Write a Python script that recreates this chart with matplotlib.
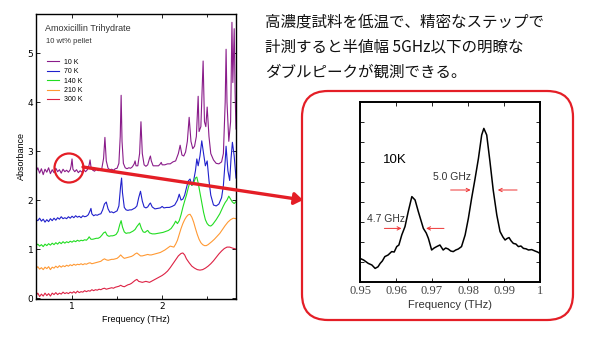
import matplotlib
matplotlib.use('Agg')
import matplotlib.pyplot as plt
from matplotlib.patches import Ellipse, FancyBboxPatch, FancyArrowPatch
from matplotlib.transforms import IdentityTransform
from matplotlib.ticker import MultipleLocator, FixedLocator

# ---- main spectrum data (THz, absorbance, offset curves) ----
f10 = [0.60, 0.62, 0.64, 0.66, 0.68, 0.70, 0.72, 0.74, 0.76, 0.78, 0.80, 0.82, 0.84, 0.86, 0.88, 0.90,
       0.92, 0.94, 0.96, 0.98, 0.99, 1.00, 1.01, 1.03, 1.05, 1.07, 1.09, 1.11, 1.13, 1.15, 1.17, 1.19,
       1.20, 1.21, 1.23, 1.25, 1.27, 1.29, 1.31, 1.33, 1.35, 1.365, 1.38, 1.40, 1.42, 1.44, 1.46, 1.48,
       1.50, 1.52, 1.535, 1.545, 1.555, 1.57, 1.59, 1.61, 1.63, 1.65, 1.67, 1.69, 1.70, 1.71, 1.73, 1.75,
       1.765, 1.78, 1.80, 1.82, 1.84, 1.86, 1.87, 1.88, 1.90, 1.93, 1.96, 1.98, 1.99, 2.00, 2.03, 2.06,
       2.09, 2.12, 2.15, 2.18, 2.20, 2.22, 2.24, 2.26, 2.28, 2.30, 2.32, 2.34, 2.36, 2.38, 2.40, 2.41,
       2.43, 2.455, 2.47, 2.485, 2.50, 2.52, 2.54, 2.57, 2.60, 2.63, 2.66, 2.68, 2.70, 2.71, 2.72, 2.74,
       2.76, 2.775, 2.785, 2.80, 2.81, 2.82]
a10 = [2.58, 2.66, 2.55, 2.64, 2.52, 2.63, 2.57, 2.66, 2.54, 2.62, 2.56, 2.65, 2.58, 2.62, 2.55, 2.63,
       2.58, 2.61, 2.57, 2.62, 2.70, 2.84, 2.63, 2.58, 2.62, 2.56, 2.60, 2.57, 2.62, 2.58, 2.62, 2.72,
       2.82, 2.68, 2.61, 2.59, 2.63, 2.60, 2.62, 2.64, 2.85, 3.28, 2.80, 2.65, 2.62, 2.63, 2.61, 2.64,
       2.65, 2.75, 3.30, 4.14, 3.20, 2.75, 2.66, 2.64, 2.66, 2.65, 2.68, 2.74, 2.80, 2.70, 2.70, 2.95,
       3.60, 2.95, 2.72, 2.69, 2.72, 2.85, 2.90, 2.80, 2.70, 2.70, 2.70, 2.74, 2.77, 2.72, 2.72, 2.74,
       2.74, 2.78, 2.80, 2.95, 3.12, 2.92, 2.90, 2.98, 3.20, 3.69, 3.20, 3.05, 3.10, 3.30, 4.12, 3.40,
       3.50, 4.84, 3.60, 3.50, 3.90, 3.30, 2.95, 2.82, 2.75, 2.74, 2.78, 2.95, 4.00, 5.08, 4.00, 3.20,
       3.60, 5.63, 4.40, 5.50, 4.20, 3.45]

f70 = [0.60, 0.62, 0.64, 0.66, 0.68, 0.70, 0.72, 0.74, 0.76, 0.78, 0.80, 0.82, 0.84, 0.86, 0.88, 0.90,
       0.92, 0.94, 0.96, 0.98, 1.00, 1.02, 1.04, 1.06, 1.08, 1.10, 1.12, 1.14, 1.16, 1.18, 1.20, 1.21,
       1.22, 1.24, 1.26, 1.28, 1.30, 1.32, 1.34, 1.36, 1.38, 1.40, 1.42, 1.44, 1.46, 1.48, 1.50, 1.52,
       1.54, 1.55, 1.56, 1.58, 1.60, 1.62, 1.64, 1.66, 1.68, 1.70, 1.72, 1.74, 1.76, 1.78, 1.80, 1.82,
       1.84, 1.86, 1.87, 1.89, 1.92, 1.95, 1.98, 2.00, 2.02, 2.05, 2.08, 2.11, 2.14, 2.17, 2.19, 2.21,
       2.23, 2.25, 2.27, 2.29, 2.31, 2.33, 2.35, 2.37, 2.385, 2.40, 2.42, 2.44, 2.46, 2.48, 2.50, 2.52,
       2.54, 2.57, 2.60, 2.63, 2.66, 2.68, 2.70, 2.71, 2.73, 2.75, 2.765, 2.78, 2.80, 2.82]
a70 = [1.60, 1.58, 1.63, 1.57, 1.61, 1.55, 1.60, 1.56, 1.62, 1.58, 1.63, 1.59, 1.64, 1.61, 1.66, 1.62,
       1.64, 1.62, 1.66, 1.63, 1.67, 1.64, 1.68, 1.65, 1.67, 1.64, 1.68, 1.66, 1.67, 1.70, 1.78, 1.83,
       1.72, 1.68, 1.70, 1.69, 1.71, 1.72, 1.80, 1.92, 1.96, 1.82, 1.75, 1.76, 1.74, 1.76, 1.78, 1.88,
       2.30, 2.45, 2.15, 1.85, 1.80, 1.79, 1.80, 1.80, 1.82, 1.84, 1.88, 2.05, 2.18, 1.98, 1.86, 1.84,
       1.86, 1.92, 1.94, 1.86, 1.82, 1.83, 1.84, 1.87, 1.84, 1.85, 1.85, 1.87, 1.90, 2.00, 2.12, 2.00,
       2.02, 2.10, 2.25, 2.39, 2.43, 2.30, 2.40, 2.60, 2.84, 2.70, 2.90, 3.21, 2.95, 2.70, 2.80, 2.40,
       2.10, 1.90, 1.88, 1.92, 2.05, 2.30, 2.80, 3.10, 2.60, 2.40, 2.85, 3.18, 2.90, 2.45]

f140 = [0.60, 0.62, 0.64, 0.66, 0.68, 0.70, 0.72, 0.74, 0.76, 0.78, 0.80, 0.82, 0.84, 0.86, 0.88, 0.90,
        0.92, 0.94, 0.96, 0.98, 1.00, 1.02, 1.04, 1.06, 1.08, 1.10, 1.12, 1.14, 1.16, 1.18, 1.19, 1.21,
        1.23, 1.25, 1.27, 1.29, 1.31, 1.33, 1.35, 1.37, 1.39, 1.41, 1.43, 1.45, 1.47, 1.49, 1.51, 1.53,
        1.545, 1.56, 1.58, 1.60, 1.62, 1.64, 1.66, 1.68, 1.70, 1.72, 1.75, 1.77, 1.79, 1.81, 1.83, 1.84,
        1.86, 1.89, 1.92, 1.95, 1.98, 2.01, 2.04, 2.07, 2.10, 2.13, 2.15, 2.17, 2.19, 2.21, 2.23, 2.25,
        2.27, 2.29, 2.31, 2.33, 2.35, 2.37, 2.385, 2.40, 2.42, 2.44, 2.46, 2.48, 2.50, 2.52, 2.54, 2.56,
        2.58, 2.60, 2.62, 2.64, 2.66, 2.68, 2.70, 2.72, 2.74, 2.76, 2.78, 2.80, 2.82]
a140 = [1.07, 1.10, 1.06, 1.09, 1.05, 1.10, 1.07, 1.11, 1.08, 1.12, 1.09, 1.13, 1.10, 1.14, 1.11, 1.15,
        1.12, 1.15, 1.13, 1.16, 1.14, 1.17, 1.15, 1.18, 1.16, 1.18, 1.17, 1.19, 1.18, 1.22, 1.25, 1.20,
        1.20, 1.21, 1.22, 1.22, 1.24, 1.28, 1.33, 1.35, 1.28, 1.26, 1.27, 1.27, 1.28, 1.30, 1.36, 1.50,
        1.58, 1.45, 1.35, 1.32, 1.33, 1.33, 1.35, 1.37, 1.40, 1.46, 1.53, 1.42, 1.35, 1.34, 1.37, 1.38,
        1.33, 1.31, 1.31, 1.32, 1.33, 1.34, 1.36, 1.38, 1.42, 1.50, 1.57, 1.52, 1.58, 1.70, 1.85, 1.98,
        2.10, 2.25, 2.38, 2.30, 2.35, 2.45, 2.47, 2.35, 2.15, 1.95, 1.75, 1.60, 1.52, 1.48, 1.47, 1.50,
        1.55, 1.60, 1.66, 1.72, 1.80, 1.88, 1.95, 2.00, 2.08, 2.02, 1.96, 1.93, 1.97]

f210 = [0.60, 0.62, 0.64, 0.66, 0.68, 0.70, 0.72, 0.74, 0.76, 0.78, 0.80, 0.82, 0.84, 0.86, 0.88, 0.90,
        0.92, 0.94, 0.96, 0.98, 1.00, 1.02, 1.04, 1.06, 1.08, 1.10, 1.12, 1.14, 1.16, 1.18, 1.20, 1.22,
        1.24, 1.26, 1.28, 1.30, 1.32, 1.34, 1.36, 1.38, 1.40, 1.42, 1.44, 1.46, 1.48, 1.50, 1.52, 1.54,
        1.56, 1.58, 1.60, 1.62, 1.64, 1.66, 1.68, 1.70, 1.72, 1.74, 1.76, 1.78, 1.80, 1.82, 1.84, 1.86,
        1.88, 1.90, 1.92, 1.94, 1.96, 1.98, 2.00, 2.03, 2.06, 2.09, 2.11, 2.13, 2.15, 2.17, 2.19, 2.21,
        2.23, 2.25, 2.27, 2.29, 2.31, 2.33, 2.35, 2.37, 2.39, 2.41, 2.43, 2.45, 2.47, 2.49, 2.51, 2.53,
        2.55, 2.58, 2.61, 2.64, 2.67, 2.70, 2.73, 2.76, 2.79, 2.82]
a210 = [0.60, 0.64, 0.59, 0.62, 0.58, 0.63, 0.60, 0.64, 0.58, 0.63, 0.61, 0.65, 0.62, 0.66, 0.63, 0.66,
        0.64, 0.67, 0.65, 0.68, 0.66, 0.69, 0.67, 0.69, 0.68, 0.70, 0.68, 0.70, 0.69, 0.71, 0.72, 0.70,
        0.71, 0.72, 0.73, 0.74, 0.75, 0.78, 0.80, 0.78, 0.77, 0.78, 0.79, 0.79, 0.80, 0.81, 0.84, 0.88,
        0.84, 0.81, 0.82, 0.83, 0.84, 0.85, 0.87, 0.90, 0.92, 0.89, 0.86, 0.86, 0.87, 0.88, 0.89, 0.88,
        0.88, 0.89, 0.90, 0.91, 0.92, 0.93, 0.95, 0.98, 1.02, 1.06, 1.05, 1.04, 1.10, 1.18, 1.30, 1.42,
        1.52, 1.60, 1.66, 1.70, 1.71, 1.65, 1.55, 1.42, 1.30, 1.20, 1.13, 1.09, 1.07, 1.07, 1.09, 1.12,
        1.15, 1.20, 1.26, 1.32, 1.40, 1.48, 1.55, 1.60, 1.63, 1.62]

f300 = [0.60, 0.62, 0.64, 0.66, 0.68, 0.70, 0.72, 0.74, 0.76, 0.78, 0.80, 0.82, 0.84, 0.86, 0.88, 0.90,
        0.92, 0.94, 0.96, 0.98, 1.00, 1.02, 1.04, 1.06, 1.08, 1.10, 1.12, 1.14, 1.16, 1.18, 1.20, 1.22,
        1.24, 1.26, 1.28, 1.30, 1.32, 1.34, 1.36, 1.38, 1.40, 1.42, 1.44, 1.46, 1.48, 1.50, 1.52, 1.54,
        1.56, 1.58, 1.60, 1.62, 1.64, 1.66, 1.68, 1.70, 1.72, 1.74, 1.76, 1.78, 1.80, 1.82, 1.84, 1.86,
        1.88, 1.90, 1.92, 1.94, 1.96, 1.98, 2.00, 2.03, 2.06, 2.09, 2.12, 2.15, 2.18, 2.21, 2.23, 2.25,
        2.27, 2.30, 2.33, 2.36, 2.39, 2.42, 2.45, 2.48, 2.51, 2.54, 2.57, 2.60, 2.63, 2.66, 2.69, 2.72,
        2.75, 2.78, 2.82]
a300 = [0.05, 0.10, 0.03, 0.08, 0.04, 0.10, 0.05, 0.09, 0.04, 0.10, 0.07, 0.11, 0.07, 0.10, 0.08, 0.12,
        0.09, 0.11, 0.09, 0.12, 0.10, 0.13, 0.10, 0.14, 0.11, 0.13, 0.12, 0.15, 0.13, 0.15, 0.14, 0.17,
        0.15, 0.17, 0.16, 0.18, 0.17, 0.19, 0.20, 0.18, 0.19, 0.20, 0.21, 0.20, 0.22, 0.23, 0.24, 0.26,
        0.24, 0.23, 0.25, 0.27, 0.28, 0.30, 0.33, 0.36, 0.38, 0.34, 0.33, 0.32, 0.33, 0.34, 0.33, 0.32,
        0.34, 0.36, 0.38, 0.40, 0.42, 0.44, 0.46, 0.50, 0.55, 0.62, 0.70, 0.78, 0.86, 0.91, 0.92, 0.88,
        0.80, 0.72, 0.65, 0.61, 0.58, 0.57, 0.58, 0.61, 0.65, 0.70, 0.76, 0.83, 0.90, 0.96, 1.01, 1.04,
        1.04, 1.02, 1.00]

labels = ['10 K', '70 K', '140 K', '210 K', '300 K']
colors = ['#8a1c8a', '#2020cc', '#22dd22', '#ff9933', '#dd2244']

# ---- zoomed 10 K doublet ----
fz = [0.9500, 0.9510, 0.9523, 0.9533, 0.9542, 0.9550, 0.9556, 0.9562, 0.9569, 0.9578, 0.9588, 0.9595,
      0.9602, 0.9608, 0.9616, 0.9625, 0.9634, 0.9644, 0.9653, 0.9662, 0.9676, 0.9684, 0.9690, 0.9699,
      0.9706, 0.9713, 0.9722, 0.9731, 0.9738, 0.9745, 0.9752, 0.9759, 0.9766, 0.9773, 0.9782, 0.9792,
      0.9801, 0.9810, 0.9819, 0.9829, 0.9838, 0.9844, 0.9852, 0.9861, 0.9870, 0.9880, 0.9889, 0.9897,
      0.9903, 0.9909, 0.9914, 0.9920, 0.9926, 0.9933, 0.9940, 0.9947, 0.9954, 0.9961, 0.9968, 0.9977,
      0.9986, 0.9993, 1.0000]
az = [1.18, 1.10, 0.93, 0.85, 0.68, 0.76, 0.93, 1.05, 1.27, 1.35, 1.52, 1.50,
      1.77, 1.85, 2.35, 2.77, 3.52, 4.27, 4.10, 3.52, 2.68, 2.45, 2.18, 1.60,
      1.70, 1.77, 1.85, 1.60, 1.70, 1.65, 1.55, 1.52, 1.60, 1.65, 1.77, 2.35,
      3.18, 4.18, 5.10, 6.18, 7.35, 7.68, 7.35, 6.02, 4.60, 3.35, 2.52, 2.25,
      2.10, 2.18, 2.22, 2.05, 1.93, 1.90, 1.77, 1.80, 1.68, 1.66, 1.60, 1.62,
      1.55, 1.50, 1.43]

W, H = 600, 353
fig = plt.figure(figsize=(6.0, 3.53), dpi=100)

ax = fig.add_axes([36 / W, 1 - 299 / H, 200 / W, 285 / H])
for f, a, lab, c in zip([f10, f70, f140, f210, f300], [a10, a70, a140, a210, a300], labels, colors):
    ax.plot(f, a, color=c, lw=0.8, label=lab)
ax.set_xlim(0.6, 2.82)
ax.set_ylim(-0.02, 5.8)
ax.xaxis.set_major_locator(FixedLocator([1, 2]))
ax.xaxis.set_minor_locator(FixedLocator([1.5, 2.5]))
ax.yaxis.set_major_locator(MultipleLocator(1))
ax.tick_params(which='both', direction='in', top=True, right=True, labelsize=6.5, length=3, width=0.6, pad=2)
ax.tick_params(which='minor', length=2)
for s in ax.spines.values():
    s.set_linewidth(1.0)
ax.set_xlabel('Frequency (THz)', fontsize=6.5, family='Liberation Sans', labelpad=3)
ax.set_ylabel('Absorbance', fontsize=6.5, family='Liberation Sans', labelpad=1)
ax.text(0.045, 0.95, 'Amoxicillin Trihydrate', transform=ax.transAxes, fontsize=6.5,
        family='Liberation Sans', color='#333333', va='center')
ax.text(0.05, 0.905, '10 wt% pellet', transform=ax.transAxes, fontsize=5.5,
        family='Liberation Sans', color='#333333', va='center')
ax.legend(loc='upper left', bbox_to_anchor=(0.03, 0.86), frameon=False,
          handlelength=1.8, handletextpad=0.6, labelspacing=0.35, borderpad=0.2,
          prop={'family': 'Liberation Sans', 'size': 5})

# rounded frame around the zoom
box = FancyBboxPatch((302, H - 320), 271, 229, boxstyle='round,pad=0,rounding_size=26',
                     transform=IdentityTransform(), fill=False, ec='#e41e26', lw=1.6)
fig.patches.append(box)

ins = fig.add_axes([360 / W, 1 - 282 / H, 180 / W, 180 / H])
ins.plot(fz, az, color='black', lw=1.1)
ins.set_xlim(0.95, 1.0)
ins.set_ylim(0, 9)
ins.set_xticks([0.95, 0.96, 0.97, 0.98, 0.99, 1.0])
ins.set_xticklabels(['0.95', '0.96', '0.97', '0.98', '0.99', '1'], family='Liberation Serif',
                    fontsize=9, color='#444444')
ins.set_yticks([1, 2, 3, 4, 5, 6, 7, 8])
ins.set_yticklabels([])
ins.tick_params(direction='in', top=True, right=True, length=3, width=0.6, pad=2)
for s in ins.spines.values():
    s.set_linewidth(1.4)
ins.set_xlabel('Frequency (THz)', fontsize=8, family='Liberation Sans', labelpad=2, color='#333333')
ins.text(0.9565, 6.1, '10K', fontsize=9.5, family='Liberation Sans', va='center')
ins.text(0.9519, 3.15, '4.7 GHz', fontsize=7.5, family='Liberation Sans', va='center', color='#333333')
ins.text(0.9703, 5.27, '5.0 GHz', fontsize=7.5, family='Liberation Sans', va='center', color='#333333')
arr = dict(arrowstyle='->', color='#ee3333', lw=0.7, mutation_scale=6)
ins.annotate('', xy=(0.9623, 2.68), xytext=(0.9560, 2.68), arrowprops=arr)
ins.annotate('', xy=(0.9676, 2.68), xytext=(0.9741, 2.68), arrowprops=arr)
ins.annotate('', xy=(0.9815, 4.6), xytext=(0.9744, 4.6), arrowprops=arr)
ins.annotate('', xy=(0.9875, 4.6), xytext=(0.9944, 4.6), arrowprops=arr)

# red circle and pointer
circ = Ellipse((69, H - 168), 29, 29, transform=IdentityTransform(), fill=False, ec='#e41e26', lw=1.6)
fig.patches.append(circ)
ptr = FancyArrowPatch((83, H - 167), (303, H - 200), transform=IdentityTransform(),
                      arrowstyle='-|>,head_length=5,head_width=3.5', color='#e41e26', lw=2.4,
                      shrinkA=0, shrinkB=0)
fig.patches.append(ptr)

jp = ['高濃度試料を低温で、精密なステップで', '計測すると半値幅 5GHz以下の明瞭な', 'ダブルピークが観測できる。']
for i, line in enumerate(jp):
    fig.text(265 / W, 1 - (22 + 25 * i) / H, line, fontsize=11.2,
             family=['Noto Sans CJK JP', 'DejaVu Sans'], va='center', ha='left', color='#111111')

fig.savefig('out.png', dpi=100)
